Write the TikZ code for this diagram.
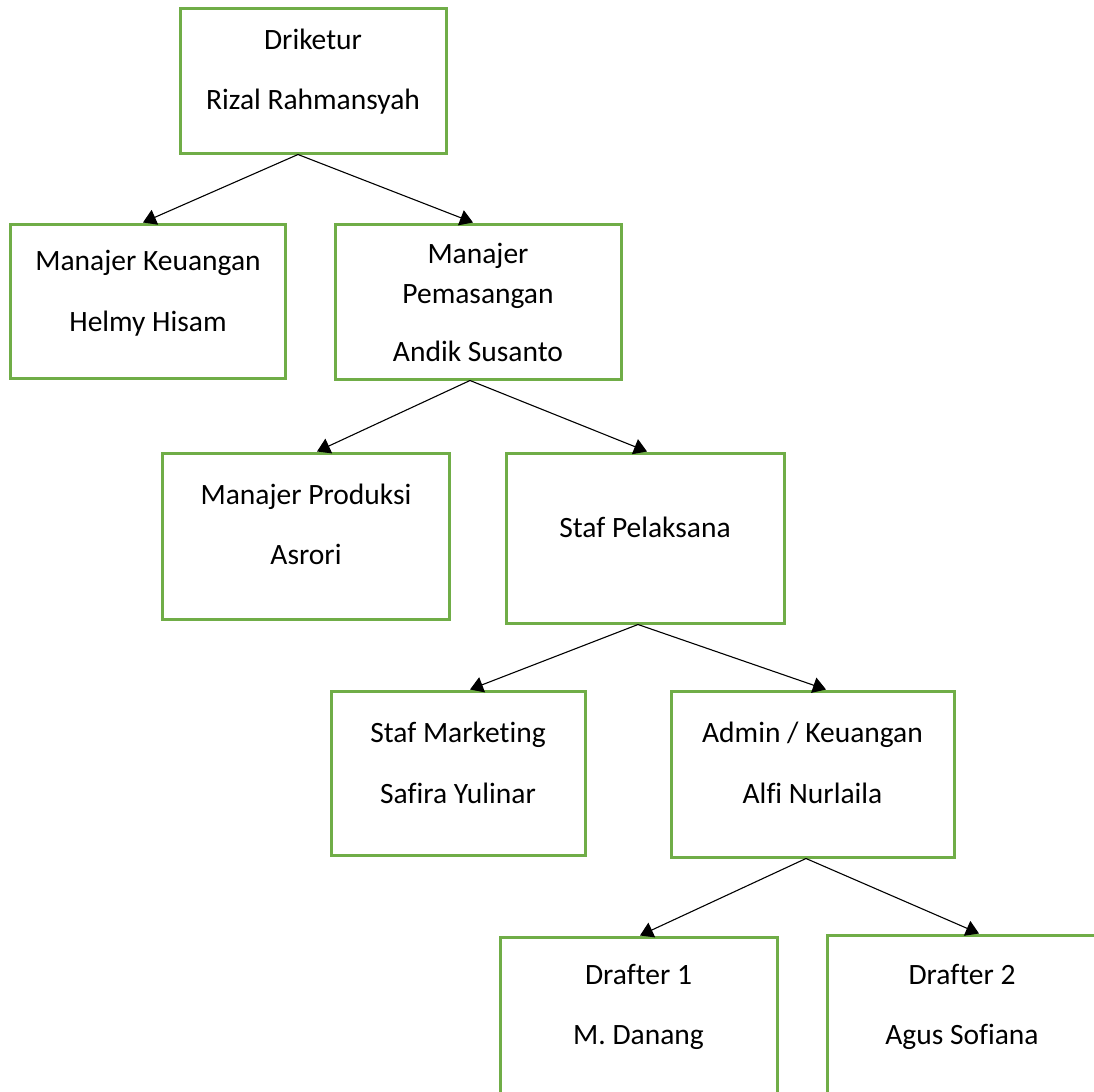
\documentclass[tikz,border=0pt]{standalone}
\usepackage{fontspec}
\setmainfont{Carlito}[Ligatures=NoCommon]
\usetikzlibrary{arrows.meta}
\definecolor{boxgreen}{HTML}{70AD47}
\tikzset{
  orgbox/.style={draw=boxgreen, line width=1.5pt, fill=white, inner sep=0pt},
  orgtxt/.style={inner sep=0pt, text height=0.64em, text depth=0pt, anchor=center, yshift=-1.75pt, font=\fontsize{14.75pt}{17pt}\selectfont},
  link/.style={draw=black, line width=0.55pt, -{Triangle[length=6.5pt,width=8pt]}}
}
\begin{document}
\begin{tikzpicture}[x=0.5pt,y=-0.5pt]
\useasboundingbox (0,0) rectangle (1094,1092);
\clip (0,0) rectangle (1094,1092);
% boxes
\node[orgbox, minimum width=133pt, minimum height=72.5pt] (A) at (313,80.5) {};
\node[orgbox, minimum width=137.5pt, minimum height=77pt] (B) at (147.5,301) {};
\node[orgbox, minimum width=143pt, minimum height=77.5pt] (C) at (478,301.5) {};
\node[orgbox, minimum width=143.5pt, minimum height=83pt] (D) at (305.5,536) {};
\node[orgbox, minimum width=139pt, minimum height=85pt] (E) at (645,538) {};
\node[orgbox, minimum width=127pt, minimum height=82pt] (F) at (458,773) {};
\node[orgbox, minimum width=141.5pt, minimum height=83pt] (G) at (812.5,774) {};
\node[orgbox, minimum width=138.5pt, minimum height=106.5pt] (H) at (638.5,1043.5) {};
\node[orgbox, minimum width=135pt, minimum height=107.5pt] (I) at (962,1042.5) {};
% texts
\node[orgtxt] (a1) at (313,39.5) {Driketur};
\node[orgtxt] (a2) at (313,100) {Rizal Rahmansyah};
\node[orgtxt] (b1) at (148,261) {Manajer Keuangan};
\node[orgtxt] (b2) at (148,322) {Helmy Hisam};
\node[orgtxt] (c1) at (478,254) {Manajer};
\node[orgtxt] (c2) at (478,294) {Pemasangan};
\node[orgtxt] (c3) at (478,352) {Andik Susanto};
\node[orgtxt] (d1) at (306,495) {Manajer Produksi};
\node[orgtxt] (d2) at (306,555) {Asrori};
\node[orgtxt] (e1) at (645,528) {Staf Pelaksana};
\node[orgtxt] (f1) at (458,733) {Staf Marketing};
\node[orgtxt] (f2) at (458,794) {Safira Yulinar};
\node[orgtxt] (g1) at (812.5,733) {Admin / Keuangan};
\node[orgtxt] (g2) at (812.5,794) {Alfi Nurlaila};
\node[orgtxt] (h1) at (638.5,975) {Drafter 1};
\node[orgtxt] (h2) at (638.5,1035) {M. Danang};
\node[orgtxt] (i1) at (962,975) {Drafter 2};
\node[orgtxt] (i2) at (962,1035) {Agus Sofiana};
% connectors
\draw[link] ([xshift=-7.5pt]A.south) -- ([xshift=-2.25pt]B.north);
\draw[link] ([xshift=-7.5pt]A.south) -- ([xshift=-2.5pt]C.north);
\draw[link] ([xshift=-4pt]C.south) -- ([xshift=5.75pt]D.north);
\draw[link] ([xshift=-4pt]C.south) -- ([xshift=1pt]E.north);
\draw[link] ([xshift=-3.5pt]E.south) -- ([xshift=6pt]F.north);
\draw[link] ([xshift=-3.5pt]E.south) -- ([xshift=6.75pt]G.north);
\draw[link] ([xshift=-3.25pt]G.south) -- ([xshift=0.75pt]H.north);
\draw[link] ([xshift=-3.25pt]G.south) -- ([xshift=8.5pt]I.north);
\end{tikzpicture}
\end{document}
